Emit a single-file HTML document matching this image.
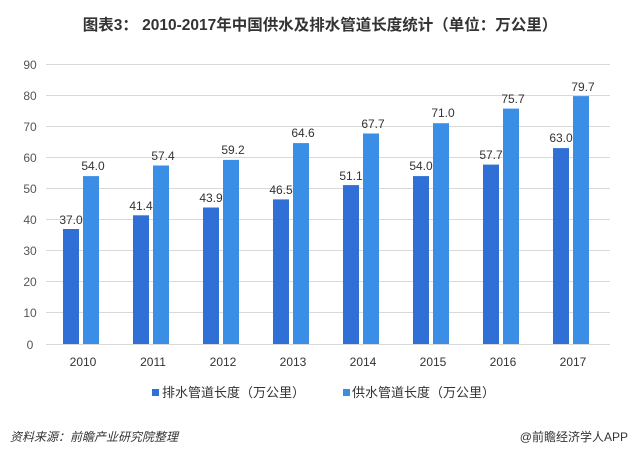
<!DOCTYPE html>
<html><head><meta charset="utf-8"><style>
body{margin:0;background:#fff;}
svg{display:block;font-family:"Liberation Sans","Noto Sans CJK SC",sans-serif;}
</style></head><body>
<svg width="640" height="464" viewBox="0 0 640 464">
<text x="320" y="30" text-anchor="middle" font-size="15.5" font-weight="bold" fill="#333">图表3： 2010-2017年中国供水及排水管道长度统计（单位：万公里）</text>
<g stroke="#d9d9d9" stroke-width="1">
<line x1="46" x2="610" y1="64.5" y2="64.5"/><line x1="46" x2="610" y1="95.5" y2="95.5"/><line x1="46" x2="610" y1="126.5" y2="126.5"/><line x1="46" x2="610" y1="157.5" y2="157.5"/><line x1="46" x2="610" y1="188.5" y2="188.5"/><line x1="46" x2="610" y1="219.5" y2="219.5"/><line x1="46" x2="610" y1="250.5" y2="250.5"/><line x1="46" x2="610" y1="281.5" y2="281.5"/><line x1="46" x2="610" y1="312.5" y2="312.5"/><line x1="46" x2="610" y1="344.5" y2="344.5"/>
</g>
<g font-size="12" fill="#555" text-anchor="middle">
<text x="30" y="69">90</text><text x="30" y="100">80</text><text x="30" y="131">70</text><text x="30" y="162">60</text><text x="30" y="193">50</text><text x="30" y="224">40</text><text x="30" y="255">30</text><text x="30" y="286">20</text><text x="30" y="317">10</text><text x="30" y="349">0</text>
</g>
<g font-size="12" fill="#333" text-anchor="middle">
<rect x="63" y="229.0" width="16" height="115.0" fill="#2f6fd6"/><rect x="83" y="176.1" width="16" height="167.9" fill="#3a8ee6"/>
<text x="71" y="224">37.0</text><text x="93" y="170">54.0</text><text x="83" y="366">2010</text>
<rect x="133" y="215.3" width="16" height="128.7" fill="#2f6fd6"/><rect x="153" y="165.5" width="16" height="178.5" fill="#3a8ee6"/>
<text x="141" y="210">41.4</text><text x="163" y="160">57.4</text><text x="153" y="366">2011</text>
<rect x="203" y="207.5" width="16" height="136.5" fill="#2f6fd6"/><rect x="223" y="159.9" width="16" height="184.1" fill="#3a8ee6"/>
<text x="211" y="202">43.9</text><text x="233" y="154">59.2</text><text x="223" y="366">2012</text>
<rect x="273" y="199.4" width="16" height="144.6" fill="#2f6fd6"/><rect x="293" y="143.1" width="16" height="200.9" fill="#3a8ee6"/>
<text x="281" y="194">46.5</text><text x="303" y="137">64.6</text><text x="293" y="366">2013</text>
<rect x="343" y="185.1" width="16" height="158.9" fill="#2f6fd6"/><rect x="363" y="133.5" width="16" height="210.5" fill="#3a8ee6"/>
<text x="351" y="180">51.1</text><text x="373" y="128">67.7</text><text x="363" y="366">2014</text>
<rect x="413" y="176.1" width="16" height="167.9" fill="#2f6fd6"/><rect x="433" y="123.2" width="16" height="220.8" fill="#3a8ee6"/>
<text x="421" y="170">54.0</text><text x="443" y="117">71.0</text><text x="433" y="366">2015</text>
<rect x="483" y="164.6" width="16" height="179.4" fill="#2f6fd6"/><rect x="503" y="108.6" width="16" height="235.4" fill="#3a8ee6"/>
<text x="491" y="159">57.7</text><text x="513" y="103">75.7</text><text x="503" y="366">2016</text>
<rect x="553" y="148.1" width="16" height="195.9" fill="#2f6fd6"/><rect x="573" y="96.1" width="16" height="247.9" fill="#3a8ee6"/>
<text x="561" y="142">63.0</text><text x="583" y="91">79.7</text><text x="573" y="366">2017</text>
</g>
<rect x="152" y="389" width="7" height="7" fill="#2f6fd6"/>
<text x="162" y="397" font-size="13" fill="#333">排水管道长度（万公里）</text>
<rect x="343" y="389" width="7" height="7" fill="#3a8ee6"/>
<text x="352" y="397" font-size="13" fill="#333">供水管道长度（万公里）</text>
<text x="10" y="441" font-size="12" font-style="italic" fill="#333">资料来源：前瞻产业研究院整理</text>
<text x="628" y="441" font-size="12" fill="#333" text-anchor="end">@前瞻经济学人APP</text>
</svg>
</body></html>
